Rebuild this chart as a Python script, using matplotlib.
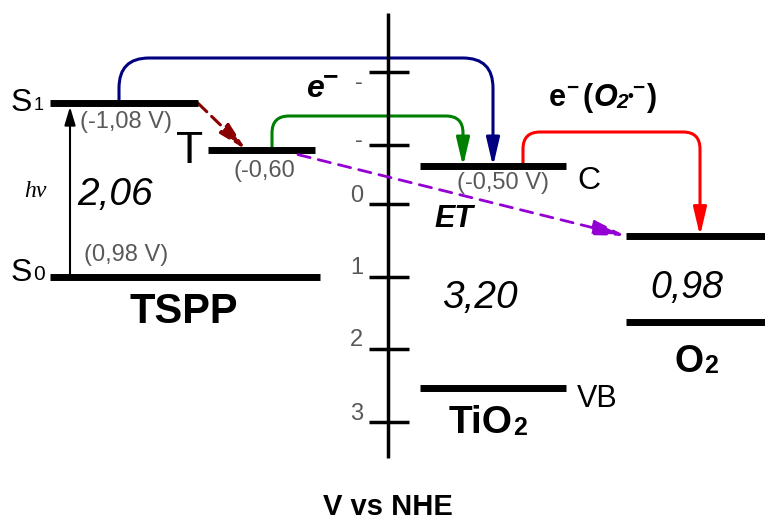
import matplotlib
matplotlib.use('Agg')
import matplotlib.pyplot as plt
from matplotlib.patches import FancyArrowPatch
from matplotlib.path import Path

plt.rcParams['font.family'] = ['Liberation Sans', 'DejaVu Sans']

# Energy levels as drawn on the (schematic) V vs NHE scale
level_names = ['S1', 'T', 'S0', 'CB', 'VB', 'O2_top', 'O2_bottom']
level_energy = [-1.39, -0.75, 1.01, -0.52, 2.54, 0.44, 1.63]
level_x0 = [50, 208, 50, 420, 420, 626, 626]
level_x1 = [198, 315, 320, 566, 566, 765, 765]

# scale of the V vs NHE axis
tick_values = [-1.82, -0.81, 0, 1, 2, 3]
tick_labels = ['-', '-', '0', '1', '2', '3']
tick_label_px = [80, 138, 193, 266, 338, 411]

potential_labels = ['(-1,08 V)', '(-0,60', '(0,98 V)', '(-0,50 V)']
gap_labels = ['2,06', '3,20', '0,98']

GRAY = '#595959'
Y0 = 204      # pixel row of 0 V
PXV = 72.5    # pixels per volt


def v(py):
    # pixel row -> volts (used for text placement)
    return (py - Y0) / PXV


def bent_arrow(ax, x0, y0, x1, y1, ytop, r, color):
    rv = r / PXV
    verts = [(x0, y0), (x0, ytop + rv), (x0, ytop), (x0 + r, ytop),
             (x1 - r, ytop), (x1, ytop), (x1, ytop + rv), (x1, y1)]
    codes = [Path.MOVETO, Path.LINETO, Path.CURVE3, Path.CURVE3,
             Path.LINETO, Path.CURVE3, Path.CURVE3, Path.LINETO]
    arr = FancyArrowPatch(path=Path(verts, codes),
                          arrowstyle='-|>,head_length=1.7,head_width=0.4',
                          mutation_scale=10, color=color, lw=2.2, zorder=2)
    ax.add_patch(arr)


def straight_arrow(ax, p0, p1, color, lw, ls, hl, hw, z=2):
    arr = FancyArrowPatch(p0, p1, arrowstyle=f'-|>,head_length={hl},head_width={hw}',
                          mutation_scale=10, color=color, lw=lw, linestyle=ls,
                          shrinkA=0, shrinkB=0, zorder=z)
    ax.add_patch(arr)


def chain(ax, x, py, pieces):
    # write text pieces one after the other (for sub/superscripts)
    rend = fig.canvas.get_renderer()
    for s, dy, gap, kw in pieces:
        t = ax.text(x, v(py + dy), s, va='baseline', **kw)
        bb = t.get_window_extent(renderer=rend)
        x = ax.transData.inverted().transform((bb.x1, bb.y0))[0] + gap


fig = plt.figure(figsize=(7.65, 5.22), dpi=100)
ax = fig.add_axes([0, 0, 1, 1])
ax.set_xlim(0, 765)
ax.set_ylim(v(522), v(0))
ax.axis('off')

E = dict(zip(level_names, level_energy))

# levels
for e, x0, x1 in zip(level_energy, level_x0, level_x1):
    ax.plot([x0, x1], [e, e], color='black', lw=5, solid_capstyle='butt', zorder=3)

# potential axis
ax.plot([388, 388], [v(13), v(458)], color='black', lw=2.5, solid_capstyle='butt', zorder=3)
for t, lab, py in zip(tick_values, tick_labels, tick_label_px):
    ax.plot([369, 409], [t, t], color='black', lw=2.5, solid_capstyle='butt', zorder=3)
    ax.text(363, v(py), lab, fontsize=17, color=GRAY, ha='right', va='center_baseline')

# electron transfer arrows
bent_arrow(ax, 119, E['S1'], 493, E['CB'], v(58), 30, '#000080')
bent_arrow(ax, 272, E['T'], 463, E['CB'], v(116), 17, '#008000')
bent_arrow(ax, 523, E['CB'], 700, E['O2_top'], v(132), 17, '#ff0000')

# excitation, ISC and energy transfer
straight_arrow(ax, (70, E['S0']), (70, E['S1'] + 3.5 / PXV), 'black', 1.5, '-', 1.1, 0.33)
straight_arrow(ax, (198, E['S1']), (246, E['T']), '#8b0000', 2.2, (0, (4, 2.2)), 1.7, 0.4)
straight_arrow(ax, (298, E['T'] + 5 / PXV), (626, E['O2_top']), '#9400d3', 2.0,
               (0, (4.5, 3)), 2.0, 0.45, z=4)

bf = {'weight': 'bold'}
bfit = {'weight': 'bold', 'style': 'italic'}

# state labels
chain(ax, 11, 111, [('S', 0, 1, dict(fontsize=23)), ('1', -1, 0, dict(fontsize=13))])
chain(ax, 11, 281, [('S', 0, 1, dict(fontsize=23)), ('0', -1, 0, dict(fontsize=15))])
ax.text(176, v(163), 'T', fontsize=32, va='baseline')
ax.text(577, v(189), 'C', fontsize=23, va='baseline')
ax.text(577, v(407), 'VB', fontsize=22, va='baseline')

# potentials
for lab, (px, py) in zip(potential_labels, [(80, 128), (234, 177), (84, 261), (457, 189)]):
    ax.text(px, v(py), lab, fontsize=17, color=GRAY, va='baseline')

# gaps
for lab, (px, py), fs in zip(gap_labels, [(77, 205), (442, 308), (650, 298)], [28, 28, 27]):
    ax.text(px, v(py), lab, fontsize=fs, style='italic', va='baseline')

ax.text(24, v(197), 'hν', fontsize=17, family='Liberation Serif', style='italic',
        va='baseline')

# species
ax.text(130, v(323), 'TSPP', fontsize=30, weight='bold', va='baseline')
chain(ax, 449, 433, [('TiO', 0, 0, dict(fontsize=28, **bf)), ('2', 2, 0, dict(fontsize=18, **bf))])
chain(ax, 675, 372, [('O', 0, 0, dict(fontsize=27, **bf)), ('2', 1, 0, dict(fontsize=18, **bf))])
ax.text(388, v(515), 'V vs NHE', fontsize=21, weight='bold', ha='center', va='baseline')

# process labels
ax.text(434, v(227), 'ET', fontsize=22, weight='bold', style='italic', va='baseline')
chain(ax, 306, 97, [('e', 0, -1, dict(fontsize=23, **bfit)),
                    ('\u2212', -13, 0, dict(fontsize=19, **bf))])
chain(ax, 549, 106, [('e', 0, 0, dict(fontsize=22, **bf)),
                     ('\u2212', -12, 4, dict(fontsize=15, **bf)),
                     ('(', 0, 1, dict(fontsize=22, **bf)),
                     ('O', 0, -1, dict(fontsize=22, **bfit)),
                     ('2', 2, 0, dict(fontsize=15, **bfit)),
                     ('\u2022', -5, -1, dict(fontsize=12, **bf)),
                     ('\u2212', -12, 2, dict(fontsize=15, **bf)),
                     (')', 0, 0, dict(fontsize=22, **bf))])

fig.savefig('out.png', dpi=100)
